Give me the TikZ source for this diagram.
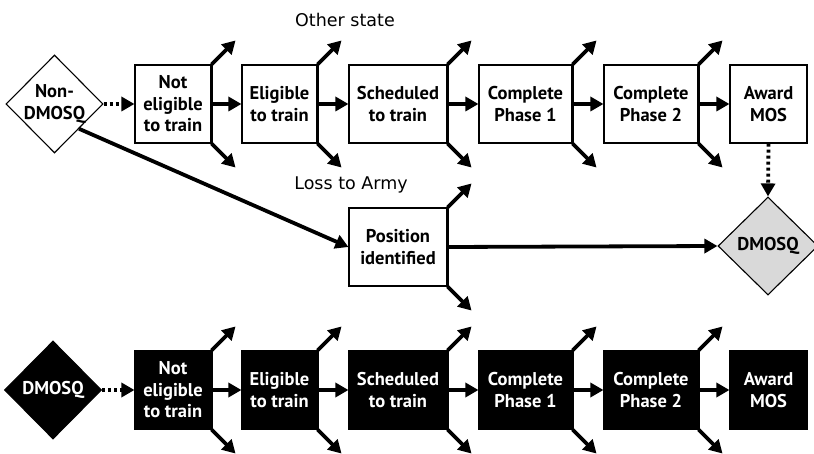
\documentclass[tikz,border=0pt]{standalone}
\usepackage{fontspec}
\setmainfont{PT Sans}
\newfontfamily\captionface{DejaVu Sans}
\usetikzlibrary{arrows.meta,shapes.geometric}
\begin{document}
\begin{tikzpicture}[x=1pt,y=-1pt,
  txt/.style={font=\captionface\fontsize{17.5}{22}\selectfont},
  stage/.style={draw, line width=1.1pt, minimum height=78pt, inner sep=0pt,
    align=center, font=\fontsize{18.5}{21.5}\selectfont\bfseries},
  darkstage/.style={stage, fill=black, text=white},
  gate/.style={diamond, draw, line width=1.1pt, minimum width=97pt,
    minimum height=98pt, inner sep=0pt},
  gatetext/.style={align=center, font=\fontsize{18.5}{21.5}\selectfont\bfseries},
  flow/.style={line width=3.8pt, -{Triangle[length=13pt,width=14pt]}},
  hold/.style={line width=3.8pt, dash pattern=on 3pt off 3pt,
    -{Triangle[length=13pt,width=14pt]}},
  fork/.style={line width=2.2pt}
]
\useasboundingbox (0,0) rectangle (814,454);

% captions for the branch arrows
\node[txt] (other) at (345,20) {Other state};
\node[txt] (loss) at (351,185) {Loss to Army};

% entry diamonds
\node[gate] (nd) at (54.5,104) {};
\node[gatetext] at (nd) {Non-\\DMOSQ};
\node[gate, fill=black] (bd) at (53,390) {};
\node[gatetext, text=white] at (bd) {DMOSQ};
\node[gate, fill=black!15, minimum width=100pt] (gd) at (768,246) {};
\node[gatetext] at (gd) {DMOSQ};

% upper pipeline
\node[stage, minimum width=76pt] (t1) at (173,104) {Not\\eligible\\to train};
\node[stage, minimum width=75pt] (t2) at (279.5,104) {Eligible\\to train};
\node[stage, minimum width=98pt] (t3) at (398,104) {Scheduled\\to train};
\node[stage, minimum width=93pt] (t4) at (525.5,104) {Complete\\Phase 1};
\node[stage, minimum width=94pt] (t5) at (651,104) {Complete\\Phase 2};
\node[stage, minimum width=77pt] (t6) at (768.5,104) {Award\\MOS};

% side path
\node[stage, minimum width=98pt] (pos) at (398,247) {Position\\identified};

% lower pipeline
\node[darkstage, minimum width=76pt] (b1) at (173,390) {Not\\eligible\\to train};
\node[darkstage, minimum width=75pt] (b2) at (279.5,390) {Eligible\\to train};
\node[darkstage, minimum width=98pt] (b3) at (398,390) {Scheduled\\to train};
\node[darkstage, minimum width=93pt] (b4) at (525.5,390) {Complete\\Phase 1};
\node[darkstage, minimum width=94pt] (b5) at (651,390) {Complete\\Phase 2};
\node[darkstage, minimum width=77pt] (b6) at (768.5,390) {Award\\MOS};

% main flow
\draw[hold] (nd.east) -- (t1.west);
\draw[hold] (bd.east) -- (b1.west);
\foreach \a/\b in {t1/t2,t2/t3,t3/t4,t4/t5,t5/t6,b1/b2,b2/b3,b3/b4,b4/b5,b5/b6}
  \draw[flow] (\a.east) -- (\b.west);
\draw[flow] (nd.south east) -- (pos.west);
\draw[flow] (pos.east) -- (gd.west);
\draw[hold] (t6.south) -- (gd.north);

% exits: up to another state, down to loss
\foreach \n in {t1,t2,t3,t4,t5,b1,b2,b3,b4,b5,pos}{
  \coordinate (\n-up) at ([shift={(24,-24)}]\n.north east);
  \coordinate (\n-dn) at ([shift={(24,24)}]\n.south east);
  \draw[fork] (\n.north east) -- (\n.south east);
  \draw[flow] (\n.north east) -- (\n-up);
  \draw[flow] (\n.south east) -- (\n-dn);
}
\end{tikzpicture}
\end{document}
